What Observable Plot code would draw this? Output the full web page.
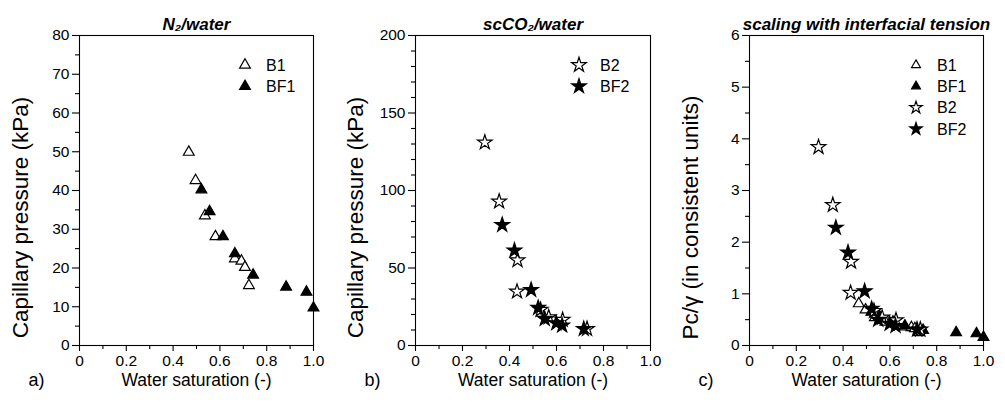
<!DOCTYPE html>
<html>
<head>
<meta charset="utf-8">
<script src="https://cdn.jsdelivr.net/npm/d3@7"></script>
<script src="https://cdn.jsdelivr.net/npm/@observablehq/plot@0.6"></script>
<style>
  html, body { margin: 0; padding: 0; background: #fff; }
  #wrap { display: flex; width: 1005px; height: 402px; }
  #wrap svg { flex: none; font-family: "Liberation Sans", Arial, Helvetica, sans-serif; }
</style>
</head>
<body>
<div id="wrap"></div>
<script>
// ---- Data ----
// Panel a: N2/water, capillary pressure (kPa) vs water saturation
const B1_sw  = [0.467, 0.496, 0.536, 0.581, 0.664, 0.692, 0.707, 0.724];
const B1_pc  = [49.9, 42.6, 33.5, 28.1, 22.4, 21.8, 20.2, 15.5];
const BF1_sw = [0.521, 0.556, 0.613, 0.664, 0.742, 0.883, 0.970, 1.000];
const BF1_pc = [40.2, 34.6, 28.1, 23.7, 18.2, 15.1, 13.8, 9.7];
// Panel b: scCO2/water
const B2_sw  = [0.295, 0.356, 0.434, 0.432, 0.532, 0.567, 0.626, 0.730];
const B2_pc  = [131.0, 92.9, 55.0, 34.8, 23.0, 18.3, 16.6, 10.7];
const BF2_sw = [0.369, 0.421, 0.492, 0.522, 0.550, 0.599, 0.624, 0.716];
const BF2_pc = [77.8, 61.3, 35.9, 24.3, 17.2, 14.4, 12.9, 10.7];
// Panel c: Pc/gamma (in consistent units)
const B1_sc  = [0.81, 0.69, 0.54, 0.455, 0.36, 0.35, 0.33, 0.25];
const BF1_sc = [0.65, 0.56, 0.455, 0.38, 0.295, 0.25, 0.23, 0.16];
const B2_sc  = [3.84, 2.72, 1.62, 1.02, 0.67, 0.54, 0.49, 0.31];
const BF2_sc = [2.28, 1.80, 1.05, 0.71, 0.50, 0.42, 0.38, 0.31];

// Tick values / labels
const xMajor = [0, 0.2, 0.4, 0.6, 0.8, 1.0];
const xMinor = [0.1, 0.3, 0.5, 0.7, 0.9];
const xTickLabels = ["0", "0.2", "0.4", "0.6", "0.8", "1.0"];
const yA_major = [0, 10, 20, 30, 40, 50, 60, 70, 80];
const yA_minor = [5, 15, 25, 35, 45, 55, 65, 75];
const yB_major = [0, 50, 100, 150, 200];
const yB_minor = [10, 20, 30, 40, 60, 70, 80, 90, 110, 120, 130, 140, 160, 170, 180, 190];
const yC_major = [0, 1, 2, 3, 4, 5, 6];
const yC_minor = [0.5, 1.5, 2.5, 3.5, 4.5, 5.5];

const titles = ["N\u2082/water", "scCO\u2082/water", "scaling with interfacial tension"];
const yLabels = ["Capillary pressure (kPa)", "Capillary pressure (kPa)", "Pc/\u03b3 (in consistent units)"];
const xLabel = "Water saturation (-)";
const letters = ["a)", "b)", "c)"];

const FONT = '"Liberation Sans", Arial, Helvetica, sans-serif';
const R_TRI = 4.0, R_STAR = 4.6;

function rows(sw, v) { return sw.map((x, i) => ({x, y: v[i]})); }

function makePanel(opts) {
  const {mL, mR, yDomain, yMajor, yMinor, title, ylabel, letter, series} = opts;
  const W = 335, H = 402, mT = 35, mB = 57;
  const marks = [
    Plot.frame({stroke: "black", strokeWidth: 1.1}),
    Plot.axisX({ticks: xMajor, tickSize: 6, tickPadding: 3, fontSize: 15.5,
      tickFormat: d => xTickLabels[xMajor.indexOf(d)], label: null, strokeWidth: 1.1}),
    Plot.axisX({ticks: xMinor, tickSize: 4, tickFormat: () => "", label: null, strokeWidth: 1.1}),
    Plot.axisY({ticks: yMajor, tickSize: 7, tickPadding: 3, fontSize: 15.5,
      tickFormat: d => String(d), label: null, strokeWidth: 1.1}),
    Plot.axisY({ticks: yMinor, tickSize: 4, tickFormat: () => "", label: null, strokeWidth: 1.1}),
  ];
  for (const s of series) {
    marks.push(Plot.dot(rows(s.sw, s.v), {
      x: "x", y: "y", symbol: s.symbol,
      r: s.symbol === "star" ? R_STAR : R_TRI,
      fill: s.filled ? "black" : "white",
      stroke: "black", strokeWidth: 1.2
    }));
  }
  marks.push(
    Plot.text([title], {frameAnchor: "top", dy: -18, fontSize: 17, fontWeight: "bold",
      fontStyle: "italic", fill: "black", textAnchor: "middle"}),
    Plot.text([xLabel], {frameAnchor: "bottom", dy: 40, fontSize: 17.5, fill: "black", textAnchor: "middle"}),
    Plot.text([letter], {frameAnchor: "bottom-left", dx: -51, dy: 40,
      fontSize: 18, fill: "black", textAnchor: "start"})
  );
  const svg = Plot.plot({
    width: W, height: H,
    marginLeft: mL, marginRight: mR, marginTop: mT, marginBottom: mB,
    x: {domain: [0, 1]},
    y: {domain: yDomain},
    style: {fontFamily: FONT, color: "black", background: "white", overflow: "visible"},
    marks
  });
  const s3 = d3.select(svg);
  // rotated y-axis label
  s3.append("text")
    .attr("transform", `translate(20,217.5) rotate(-90)`)
    .attr("text-anchor", "middle").attr("dy", "0.36em")
    .attr("font-size", 22.5).attr("font-family", FONT).attr("fill", "black")
    .text(ylabel);
  // legend (inside the plot frame, upper right)
  const g = s3.append("g");
  series.forEach((s, i) => {
    const yy = 65 + i * 21.3;
    const r = s.symbol === "star" ? opts.legRS : opts.legRT;
    const sym = s.symbol === "star" ? d3.symbolStar : d3.symbolTriangle;
    g.append("path")
      .attr("d", d3.symbol(sym, Math.PI * r * r)())
      .attr("transform", `translate(${opts.legX},${yy})`)
      .attr("fill", s.filled ? "black" : "white")
      .attr("stroke", "black").attr("stroke-width", 1.2);
    g.append("text")
      .attr("x", opts.legX + 21).attr("y", yy).attr("dy", "0.36em")
      .attr("text-anchor", "start")
      .attr("font-size", 16).attr("font-family", FONT).attr("fill", "black")
      .text(s.name);
  });
  return svg;
}

const wrap = document.getElementById("wrap");
wrap.append(makePanel({
  mL: 79, mR: 22, yDomain: [0, 80], yMajor: yA_major, yMinor: yA_minor,
  title: titles[0], ylabel: yLabels[0], letter: letters[0], legX: 245, legRT: 4.0, legRS: 4.6,
  series: [
    {name: "B1", sw: B1_sw, v: B1_pc, symbol: "triangle", filled: false},
    {name: "BF1", sw: BF1_sw, v: BF1_pc, symbol: "triangle", filled: true}
  ]
}));
wrap.append(makePanel({
  mL: 80, mR: 20, yDomain: [0, 200], yMajor: yB_major, yMinor: yB_minor,
  title: titles[1], ylabel: yLabels[1], letter: letters[1], legX: 244, legRT: 4.0, legRS: 4.6,
  series: [
    {name: "B2", sw: B2_sw, v: B2_pc, symbol: "star", filled: false},
    {name: "BF2", sw: BF2_sw, v: BF2_pc, symbol: "star", filled: true}
  ]
}));
wrap.append(makePanel({
  mL: 79, mR: 22, yDomain: [0, 6], yMajor: yC_major, yMinor: yC_minor,
  title: titles[2], ylabel: yLabels[2], letter: letters[2], legX: 246, legRT: 3.3, legRS: 3.9,
  series: [
    {name: "B1", sw: B1_sw, v: B1_sc, symbol: "triangle", filled: false},
    {name: "BF1", sw: BF1_sw, v: BF1_sc, symbol: "triangle", filled: true},
    {name: "B2", sw: B2_sw, v: B2_sc, symbol: "star", filled: false},
    {name: "BF2", sw: BF2_sw, v: BF2_sc, symbol: "star", filled: true}
  ]
}));
</script>
</body>
</html>
